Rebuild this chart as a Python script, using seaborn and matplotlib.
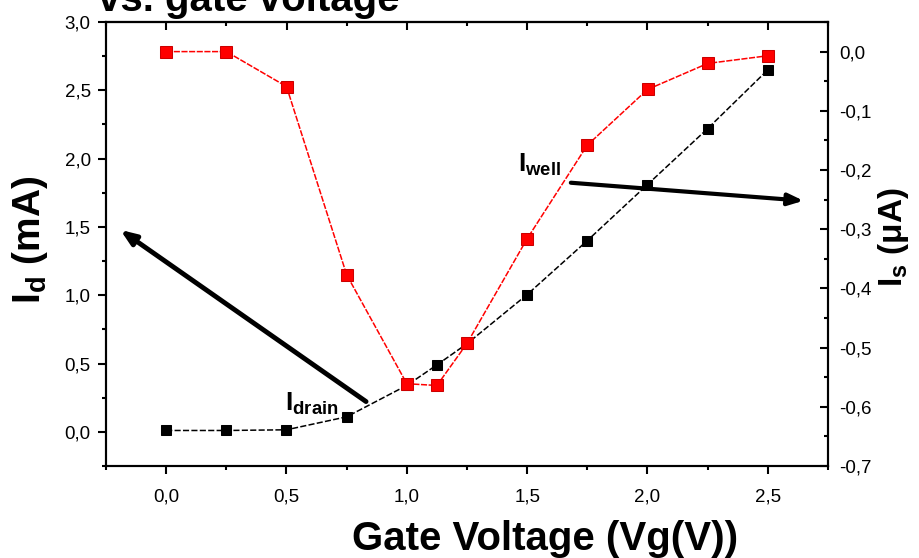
import numpy as np
import pandas as pd
import matplotlib
matplotlib.use("Agg")
import matplotlib.pyplot as plt
import seaborn as sns
from matplotlib.ticker import FuncFormatter, MultipleLocator

# gate voltage sweep (V)
gate_v = [0.0, 0.25, 0.5, 0.75, 1.0, 1.125, 1.25, 1.5, 1.75, 2.0, 2.25, 2.5]
# drain current (mA), left axis
i_drain = [0.01, 0.01, 0.015, 0.11, 0.34, 0.49, 0.645, 1.005, 1.40, 1.81, 2.22, 2.65]
# well / source current (uA), right axis
i_well = [0.0, 0.0, -0.059, -0.377, -0.561, -0.564, -0.493, -0.316, -0.158, -0.064, -0.020, -0.007]

left_ticks = [0.0, 0.5, 1.0, 1.5, 2.0, 2.5, 3.0]
right_ticks = [-0.7, -0.6, -0.5, -0.4, -0.3, -0.2, -0.1, 0.0]
x_ticks = [0.0, 0.5, 1.0, 1.5, 2.0, 2.5]

df = pd.DataFrame({"vg": gate_v, "id": i_drain, "iw": i_well})

sns.set_style("ticks")
plt.rcParams["font.family"] = ["Liberation Sans", "DejaVu Sans"]
plt.rcParams["mathtext.fontset"] = "custom"
plt.rcParams["mathtext.rm"] = "Liberation Sans:bold"
plt.rcParams["mathtext.it"] = "Liberation Sans:bold"
plt.rcParams["mathtext.bf"] = "Liberation Sans:bold"
for key in ("text.color", "axes.labelcolor", "xtick.color", "ytick.color", "axes.edgecolor"):
    plt.rcParams[key] = "black"

comma = FuncFormatter(lambda v, p: f"{v:.1f}".replace(".", ","))

fig = plt.figure(figsize=(9.2, 5.58), dpi=100)
ax = fig.add_axes([106 / 920, 1 - 466 / 558, (828 - 106) / 920, (466 - 22) / 558])
ax2 = ax.twinx()

sns.lineplot(data=df, x="vg", y="id", ax=ax, color="black", marker="s",
             markersize=6.5, markeredgecolor="black", markerfacecolor="black",
             linewidth=1.1, linestyle=(0, (4, 1.5)), zorder=3)
sns.lineplot(data=df, x="vg", y="iw", ax=ax2, color="red", marker="s",
             markersize=8, markeredgecolor="#cc0000", markerfacecolor="red",
             linewidth=1.1, linestyle=(0, (4, 1)), zorder=3)

ax.set_xlim(-0.25, 2.75)
ax.set_ylim(-0.25, 3.0)
ax2.set_ylim(-0.7, 0.05)

ax.set_xticks(x_ticks)
ax.set_yticks(left_ticks)
ax2.set_yticks(right_ticks)
ax.xaxis.set_minor_locator(MultipleLocator(0.25))
ax.yaxis.set_minor_locator(MultipleLocator(0.25))
ax2.yaxis.set_minor_locator(MultipleLocator(0.05))
ax.xaxis.set_major_formatter(comma)
ax.yaxis.set_major_formatter(comma)
ax2.yaxis.set_major_formatter(comma)

ax.tick_params(axis="both", which="major", direction="out", length=6, width=1.5,
               labelsize=13.5, pad=5)
ax.tick_params(axis="both", which="minor", direction="out", length=3, width=1.5)
ax.tick_params(axis="x", which="major", pad=10)
ax2.tick_params(axis="y", which="major", direction="in", length=6, width=1.5,
                labelsize=13.5, pad=8)
ax2.tick_params(axis="y", which="minor", direction="in", length=3, width=1.5)

top = ax.secondary_xaxis("top")
top.set_xticks(x_ticks)
top.xaxis.set_minor_locator(MultipleLocator(0.25))
top.tick_params(which="major", direction="in", length=6, width=1.5, labeltop=False)
top.tick_params(which="minor", direction="in", length=3, width=1.5)

for a in (ax, ax2):
    for s in a.spines.values():
        s.set_visible(True)
        s.set_linewidth(1.5)
        s.set_color("black")
top.spines["top"].set_linewidth(1.5)

ax.set_xlabel("Gate Voltage (Vg(V))", fontsize=29, fontweight="bold", va="baseline")
ax.xaxis.set_label_coords((545 - 106) / 722, (466 - 550) / 444)
ax.set_ylabel(r"I$_\mathrm{d}$ (mA)", fontsize=28, fontweight="bold")
ax.yaxis.set_label_coords((50 - 106) / 722, 0.509)
ax2.set_ylabel(r"I$_\mathrm{s}$ ($\mathrm{\mu}$A)", fontsize=24, fontweight="bold")
ax2.yaxis.set_label_coords((876 - 106) / 722, 0.516)

# arrows and curve labels
ax.annotate("", xy=(-0.20, 1.49), xytext=(0.84, 0.21),
            arrowprops=dict(arrowstyle="-|>,head_width=0.35,head_length=0.9",
                            lw=3.5, color="black"))
ax.annotate("", xy=(2.66, 1.69), xytext=(1.67, 1.825),
            arrowprops=dict(arrowstyle="-|>,head_width=0.35,head_length=0.9",
                            lw=3, color="black"))
ax.text(0.495, 0.154, r"I$_\mathrm{drain}$", fontsize=19, fontweight="bold", ha="left", va="baseline")
ax.text(1.46, 1.90, r"I$_\mathrm{well}$", fontsize=19, fontweight="bold", ha="left", va="baseline")

fig.text(98 / 920, 1 - 11 / 558, "vs. gate voltage", fontsize=29, fontweight="bold",
         ha="left", va="baseline")

fig.savefig("out.png", dpi=100)
